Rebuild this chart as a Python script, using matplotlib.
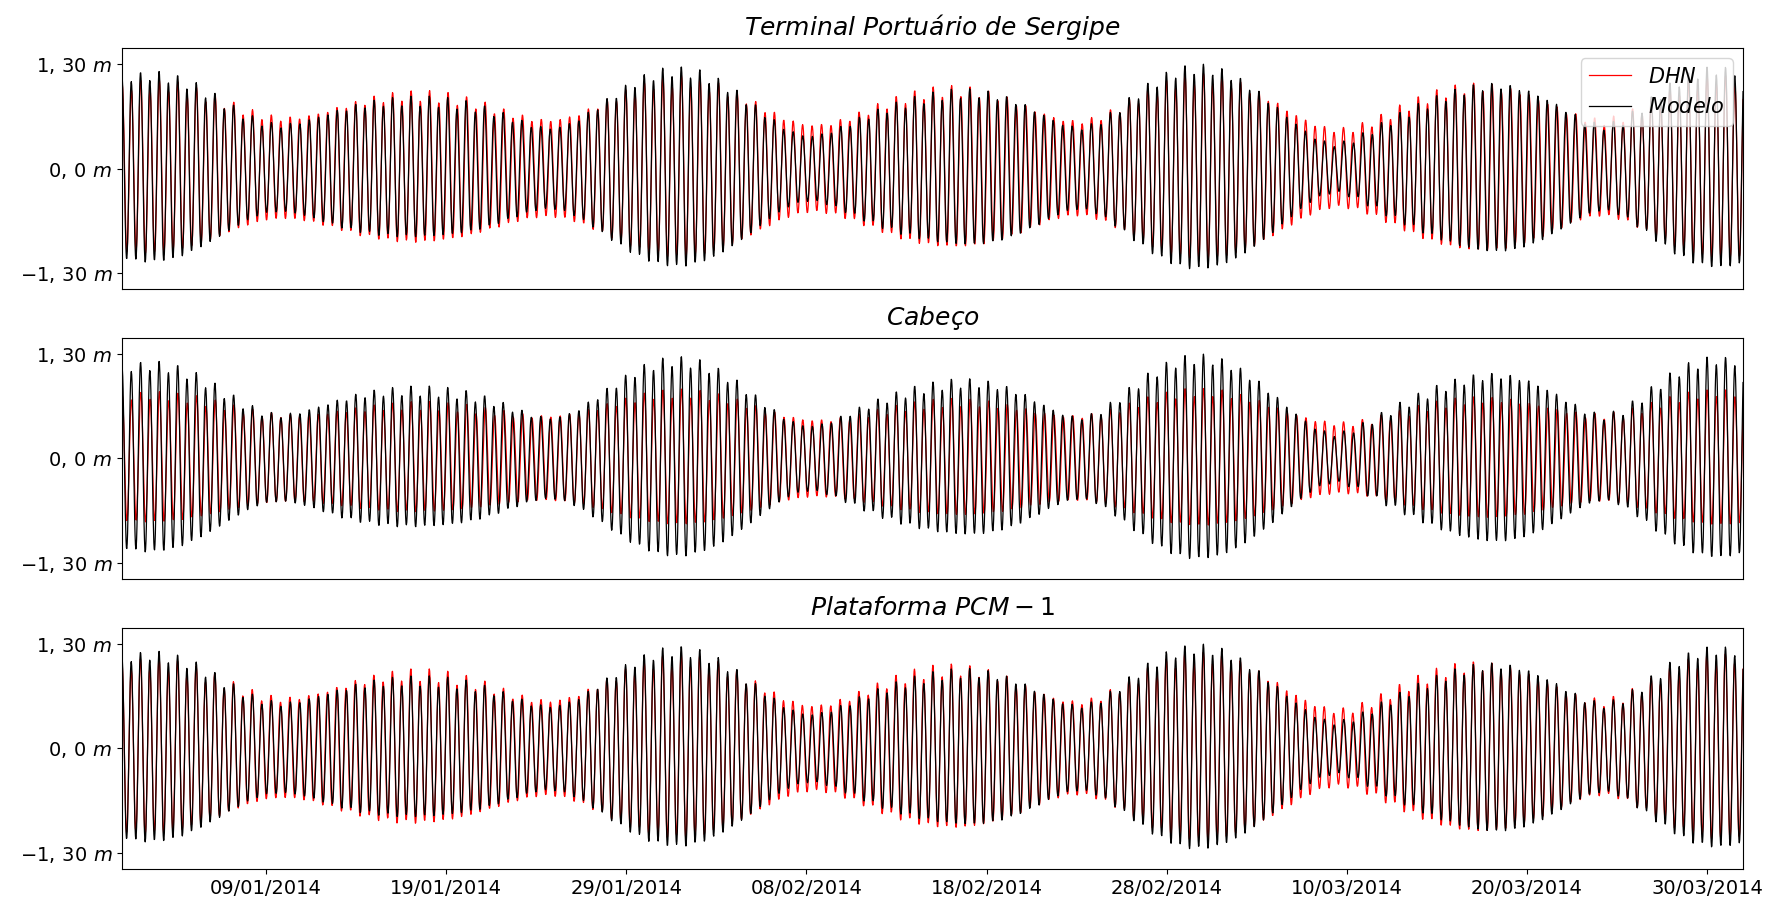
import numpy as np
import pandas as pd
import matplotlib
matplotlib.use('Agg')
import matplotlib.pyplot as plt

# period of the comparison (30 min step)
t_start = '2014-01-01 00:00'
t_end = '2014-04-01 00:00'

# harmonic constituents and their angular speeds (deg/hour)
constituents = ['M2', 'S2', 'N2', 'K2', 'K1', 'O1']
speeds = [28.9841042, 30.0, 28.4397295, 30.0821373, 15.0410686, 13.9430356]

# amplitudes (m) and phases (deg) for each station, DHN and model
tps_dhn_amp = [0.79, 0.22, 0.08, 0.05, 0.03, 0.04]
tps_dhn_pha = [6.0, 30.4, 333.3, 186.1, 46.0, 306.0]
tps_mod_amp = [0.74, 0.30, 0.17, 0.06, 0.03, 0.035]
tps_mod_pha = [0.0, 24.4, 327.3, 180.1, 40.0, 300.0]

cab_dhn_amp = [0.62, 0.12, 0.07, 0.03, 0.025, 0.03]
cab_dhn_pha = [10.0, 34.4, 337.3, 190.1, 48.0, 308.0]
cab_mod_amp = [0.74, 0.30, 0.17, 0.06, 0.03, 0.035]
cab_mod_pha = [1.0, 25.4, 328.3, 181.1, 41.0, 301.0]

pcm_dhn_amp = [0.79, 0.23, 0.08, 0.05, 0.035, 0.045]
pcm_dhn_pha = [-4.0, 20.4, 323.3, 176.1, 36.0, 296.0]
pcm_mod_amp = [0.75, 0.29, 0.17, 0.06, 0.03, 0.035]
pcm_mod_pha = [-2.0, 22.4, 325.3, 178.1, 38.0, 298.0]

titles = [r'$Terminal\ Portuário\ de\ Sergipe$', r'$Cabeço$', r'$Plataforma\ PCM-1$']
ytick_values = [-1.3, 0.0, 1.3]
ytick_labels = [r'$-1,\,30\ m$', r'$0,\,0\ m$', r'$1,\,30\ m$']
xtick_labels = ['09/01/2014', '19/01/2014', '29/01/2014', '08/02/2014', '18/02/2014',
                '28/02/2014', '10/03/2014', '20/03/2014', '30/03/2014']

times = pd.date_range(t_start, t_end, freq='30min')
hours = ((times - times[0]) / pd.Timedelta(hours=1)).to_numpy()


def tide(amp, pha):
    h = np.zeros(len(hours))
    for a, w, g in zip(amp, speeds, pha):
        h += a * np.cos(np.radians(w * hours - g))
    return h


stations = [
    (tide(tps_dhn_amp, tps_dhn_pha), tide(tps_mod_amp, tps_mod_pha)),
    (tide(cab_dhn_amp, cab_dhn_pha), tide(cab_mod_amp, cab_mod_pha)),
    (tide(pcm_dhn_amp, pcm_dhn_pha), tide(pcm_mod_amp, pcm_mod_pha)),
]

fig, axes = plt.subplots(3, 1, figsize=(17.75, 9.06), dpi=100)
fig.subplots_adjust(left=0.0687, right=0.982, top=0.947, bottom=0.041, hspace=0.203)

for ax, (dhn, mod), title in zip(axes, stations, titles):
    ax.plot(times, dhn, color='r', lw=0.9, label=r'$DHN$')
    ax.plot(times, mod, color='k', lw=0.9, label=r'$Modelo$')
    ax.set_xlim(times[0], times[-1])
    ax.set_ylim(-1.5, 1.5)
    ax.set_yticks(ytick_values)
    ax.set_yticklabels(ytick_labels)
    ax.tick_params(axis='y', labelsize=14)
    ax.set_title(title, fontsize=18, pad=9.5)

for ax in axes[:2]:
    ax.set_xticks([])

xt = pd.to_datetime(xtick_labels, dayfirst=True)
axes[2].set_xticks(xt)
axes[2].set_xticklabels(xtick_labels)
axes[2].tick_params(axis='x', labelsize=14)

axes[0].legend(loc='upper right', fontsize=15)

plt.savefig('out.png', dpi=100)
